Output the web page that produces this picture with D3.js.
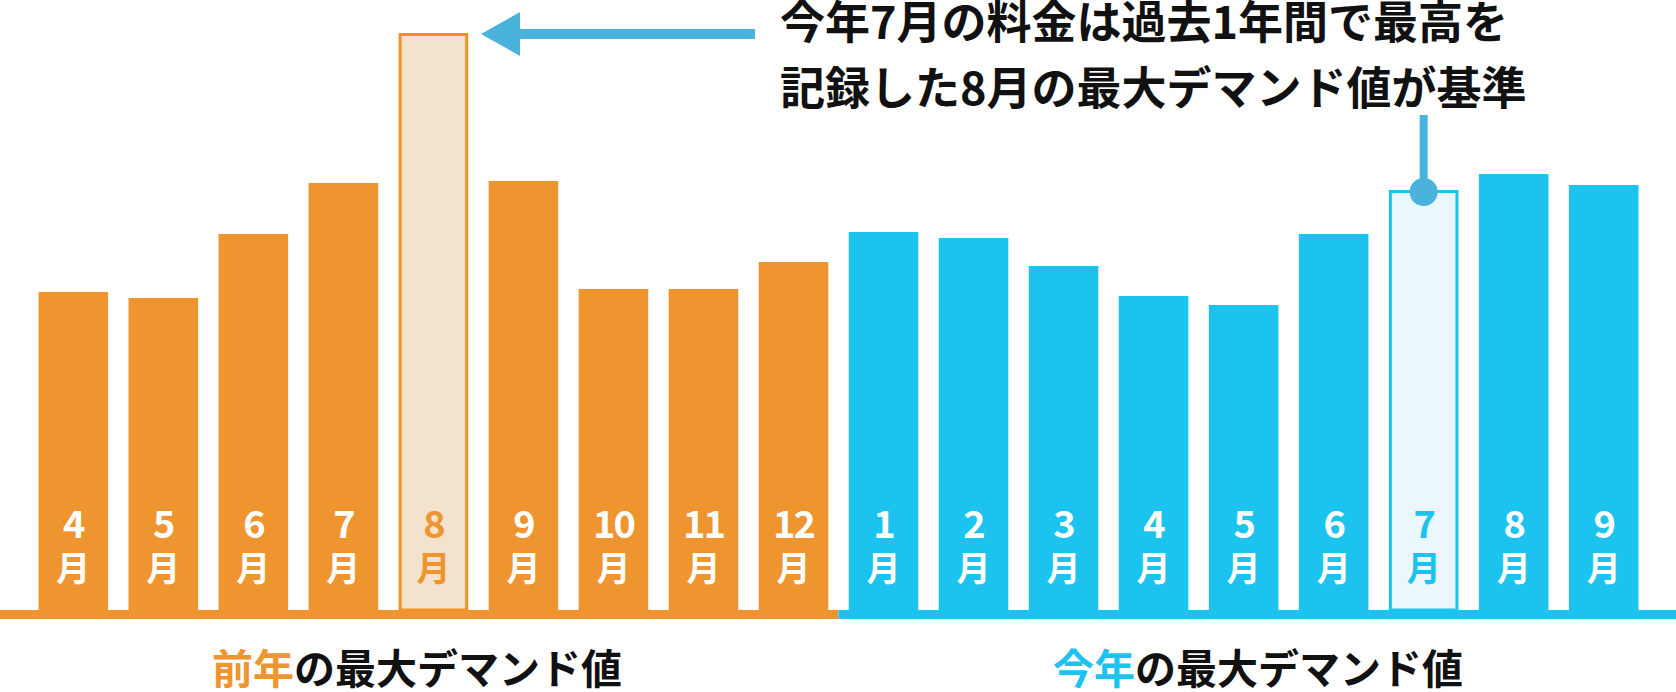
<!DOCTYPE html><html><head><meta charset="utf-8"><script src="https://cdn.jsdelivr.net/npm/d3@7"></script>
<style>body{margin:0;background:#fff}text{font-family:"Noto Sans CJK JP","Noto Sans",sans-serif}</style></head><body>
<script>
const months=["4","5","6","7","8","9","10","11","12","1","2","3","4","5","6","7","8","9"];
const values=[318,312,376,427,577,429,321,321,348,378,372,344,314,305,376,420,436,425];
const groups=["prev","prev","prev","prev","prev","prev","prev","prev","prev","cur","cur","cur","cur","cur","cur","cur","cur","cur"];
const highlight=[4,15];
const W=1676,H=692,base=610;
const col={prev:"#ef9530",cur:"#1bc3ee"},hiFill={prev:"#f3e3cd",cur:"#eaf8fd"},hiStroke={prev:"#f5911e",cur:"#1bc3ee"};
const svg=d3.select("body").append("svg").attr("width",W).attr("height",H);
const x=d3.scaleBand().domain(d3.range(18)).range([38.5,1638.5]).paddingInner(0.227).paddingOuter(0);
const y=d3.scaleLinear().domain([0,577]).range([base,33]);
const g=svg.selectAll("g.b").data(values).join("g");
g.append("rect").attr("x",(d,i)=>x(i)+(highlight.includes(i)?1.5:0)).attr("y",(d,i)=>y(d)+(highlight.includes(i)?1.5:0))
 .attr("width",(d,i)=>x.bandwidth()-(highlight.includes(i)?3:0)).attr("height",(d,i)=>base-y(d)-(highlight.includes(i)?1.5:0))
 .attr("fill",(d,i)=>highlight.includes(i)?hiFill[groups[i]]:col[groups[i]])
 .attr("stroke",(d,i)=>highlight.includes(i)?hiStroke[groups[i]]:"none").attr("stroke-width",3);
const tc=i=>highlight.includes(i)?col[groups[i]]:"#fff";
g.append("text").attr("x",(d,i)=>x(i)+x.bandwidth()/2).attr("y",538).attr("text-anchor","middle").attr("font-size",38).attr("font-weight",700)
 .attr("fill",(d,i)=>tc(i)).attr("letter-spacing",-2).text((d,i)=>months[i]);
g.append("text").attr("x",(d,i)=>x(i)+x.bandwidth()/2).attr("y",581).attr("text-anchor","middle").attr("font-size",34).attr("font-weight",700)
 .attr("fill",(d,i)=>tc(i)).text("月");
const split=(x(8)+x.bandwidth()+x(9))/2;
svg.append("rect").attr("x",0).attr("y",base).attr("width",split).attr("height",9).attr("fill",col.prev);
svg.append("rect").attr("x",split).attr("y",base).attr("width",W-split).attr("height",9).attr("fill",col.cur);
function cap(cx,first,c){const t=svg.append("text").attr("x",cx).attr("y",684).attr("text-anchor","middle").attr("font-size",41).attr("font-weight",700).attr("fill","#111");
 t.append("tspan").attr("fill",c).text(first);t.append("tspan").text("の最大デマンド値");}
cap(417,"前年",col.prev);cap(1258,"今年",col.cur);
const ac="#4ab3dc";
svg.append("rect").attr("x",515).attr("y",29).attr("width",240).attr("height",10).attr("fill",ac);
svg.append("path").attr("d","M481,34L520,12L520,56Z").attr("fill",ac);
const cx7=x(15)+x.bandwidth()/2;
svg.append("rect").attr("x",cx7-4).attr("y",115).attr("width",8).attr("height",75).attr("fill",ac);
svg.append("circle").attr("cx",cx7).attr("cy",y(values[15])+2).attr("r",14).attr("fill",ac);
const lines=["今年7月の料金は過去1年間で最高を","記録した8月の最大デマンド値が基準"];
svg.selectAll("text.ann").data(lines).join("text").attr("x",780).attr("y",(d,i)=>39+i*66).attr("font-size",45).attr("font-weight",700).attr("fill","#111").text(d=>d);
</script></body></html>
